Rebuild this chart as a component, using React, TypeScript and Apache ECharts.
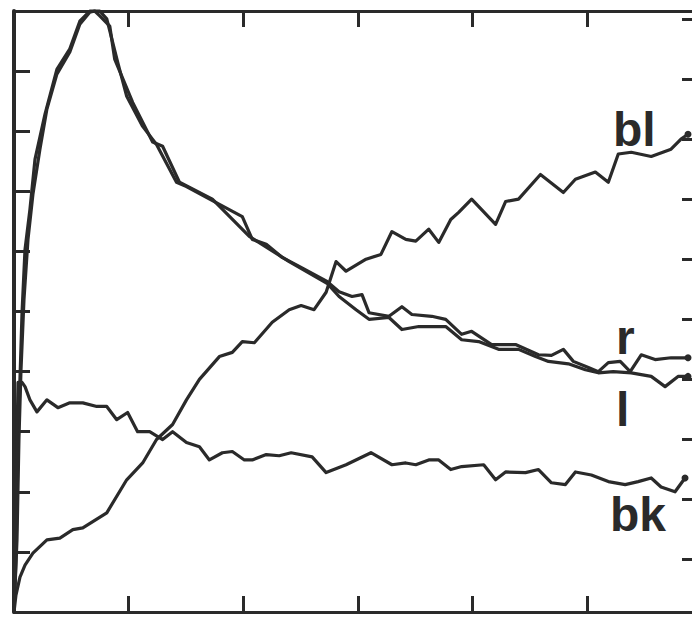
import React, { useEffect, useRef } from "react";
import * as echarts from "echarts";

// x in axis units (0..6), y in axis units (0..10)
const rPoints: [number, number][] = [
  [0, 0], [0.017, 0.87], [0.035, 2.7], [0.052, 3.87], [0.07, 4.98], [0.096, 6.03], [0.139, 6.7],
  [0.183, 7.53], [0.27, 8.28], [0.374, 9.03], [0.487, 9.37], [0.574, 9.83], [0.661, 10.0],
  [0.748, 10.0], [0.809, 9.87], [0.904, 9.15], [0.983, 8.58], [1.122, 8.08], [1.243, 7.78],
  [1.417, 7.15], [1.504, 7.08], [1.678, 6.9], [1.991, 6.58], [2.078, 6.2], [2.2, 6.12],
  [2.339, 5.9], [2.487, 5.75], [2.73, 5.5], [2.835, 5.33], [2.948, 5.25], [3.035, 5.28],
  [3.096, 4.98], [3.27, 4.92], [3.383, 5.08], [3.47, 4.95], [3.643, 4.92], [3.765, 4.87],
  [3.904, 4.62], [3.991, 4.67], [4.165, 4.45], [4.374, 4.45], [4.574, 4.28], [4.687, 4.27],
  [4.791, 4.37], [4.878, 4.17], [5.009, 4.07], [5.096, 4.0], [5.183, 4.15], [5.287, 4.17],
  [5.374, 4.0], [5.47, 4.28], [5.591, 4.2], [5.73, 4.23], [5.878, 4.23],
];

const lPoints: [number, number][] = [
  [0, 0], [0.026, 1.2], [0.043, 2.87], [0.061, 4.03], [0.087, 5.2], [0.122, 6.2], [0.165, 6.95],
  [0.226, 7.7], [0.287, 8.37], [0.374, 8.95], [0.487, 9.32], [0.574, 9.78], [0.661, 9.98],
  [0.704, 10.0], [0.748, 9.92], [0.835, 9.75], [0.878, 9.2], [1.035, 8.48], [1.209, 7.82],
  [1.296, 7.75], [1.443, 7.15], [1.73, 6.87], [2.052, 6.25], [2.4, 5.83], [2.73, 5.47],
  [2.835, 5.25], [2.983, 5.03], [3.096, 4.87], [3.27, 4.9], [3.383, 4.7], [3.53, 4.75],
  [3.765, 4.75], [3.904, 4.53], [4.052, 4.5], [4.226, 4.37], [4.4, 4.37], [4.548, 4.25],
  [4.661, 4.17], [4.835, 4.13], [4.983, 4.03], [5.096, 3.98], [5.226, 4.0], [5.383, 3.98],
  [5.557, 3.92], [5.678, 3.75], [5.791, 3.92], [5.878, 3.92],
];

const blPoints: [number, number][] = [
  [0, 0], [0.017, 0.28], [0.052, 0.58], [0.096, 0.78], [0.165, 0.98], [0.287, 1.2], [0.4, 1.23],
  [0.513, 1.37], [0.6, 1.4], [0.809, 1.65], [0.983, 2.2], [1.122, 2.48], [1.243, 2.87],
  [1.383, 3.12], [1.504, 3.53], [1.617, 3.87], [1.791, 4.25], [1.904, 4.32], [1.991, 4.5],
  [2.096, 4.48], [2.252, 4.82], [2.4, 5.03], [2.504, 5.1], [2.617, 5.03], [2.722, 5.32],
  [2.809, 5.83], [2.896, 5.67], [3.07, 5.87], [3.2, 5.95], [3.296, 6.33], [3.417, 6.2],
  [3.504, 6.17], [3.617, 6.37], [3.704, 6.15], [3.809, 6.53], [3.878, 6.65], [3.991, 6.87],
  [4.2, 6.45], [4.287, 6.83], [4.4, 6.87], [4.591, 7.28], [4.791, 6.98], [4.896, 7.2],
  [5.07, 7.32], [5.183, 7.15], [5.27, 7.62], [5.383, 7.65], [5.557, 7.58], [5.73, 7.7],
  [5.817, 7.87], [5.878, 7.95],
];

const bkPoints: [number, number][] = [
  [0, 0], [0.035, 3.82], [0.07, 3.82], [0.096, 3.75], [0.139, 3.53], [0.2, 3.33], [0.287, 3.53],
  [0.383, 3.4], [0.487, 3.48], [0.6, 3.48], [0.722, 3.42], [0.809, 3.42], [0.896, 3.2],
  [0.991, 3.32], [1.078, 3.0], [1.183, 3.0], [1.296, 2.87], [1.383, 3.0], [1.504, 2.82],
  [1.617, 2.75], [1.704, 2.53], [1.817, 2.65], [1.904, 2.67], [2.009, 2.53], [2.078, 2.53],
  [2.2, 2.62], [2.313, 2.6], [2.417, 2.65], [2.6, 2.58], [2.722, 2.32], [2.896, 2.45],
  [3.113, 2.65], [3.296, 2.45], [3.417, 2.48], [3.504, 2.45], [3.617, 2.53], [3.704, 2.53],
  [3.809, 2.37], [3.904, 2.42], [4.096, 2.45], [4.2, 2.2], [4.287, 2.33], [4.461, 2.32],
  [4.574, 2.37], [4.687, 2.15], [4.809, 2.12], [4.896, 2.33], [5.035, 2.28], [5.183, 2.17],
  [5.33, 2.12], [5.443, 2.17], [5.557, 2.23], [5.643, 2.08], [5.765, 2.0], [5.852, 2.23],
];

const seriesNames = ["r", "l", "bl", "bk"];
const rightTickValues = [0.87, 1.87, 2.87, 3.87, 4.87, 5.87, 6.87, 7.87, 8.87, 9.87];

const INK = "#2a2a2a";

function withEndDot(points: [number, number][]) {
  return points.map((p, i) =>
    i === points.length - 1
      ? { value: p, symbol: "circle", symbolSize: 7 }
      : { value: p }
  );
}

export default function App() {
  const ref = useRef<HTMLDivElement>(null);

  useEffect(() => {
    if (!ref.current) return;
    const chart = echarts.init(ref.current, null, { renderer: "svg" });
    const tick = { show: true, inside: true, length: 16, lineStyle: { color: INK, width: 3 } };
    const axisLine = (w: number) => ({ show: true, onZero: false, lineStyle: { color: INK, width: w } });
    const lineSeries = (name: string, pts: [number, number][]) => ({
      name,
      type: "line",
      xAxisIndex: 0,
      yAxisIndex: 0,
      data: withEndDot(pts),
      symbol: "none",
      showSymbol: true,
      showAllSymbol: true,
      itemStyle: { color: INK },
      lineStyle: { color: INK, width: 3.2, join: "round" },
      clip: false,
      silent: true,
    });
    const labelText = (text: string, x: number, y: number) => ({
      type: "text",
      x,
      y,
      style: {
        text,
        fill: INK,
        font: "bold 48px 'Liberation Sans', Arial, sans-serif",
        textVerticalAlign: "middle",
        verticalAlign: "middle",
      },
    });
    chart.setOption({
      animation: false,
      backgroundColor: "#ffffff",
      grid: {
        left: 14, right: -10, top: 11, bottom: 7, containLabel: false,
        outerBoundsMode: "none",
      },
      xAxis: [
        {
          type: "value", gridIndex: 0, min: 0, max: 6, interval: 1, position: "bottom",
          axisLine: axisLine(3),
          axisTick: tick, axisLabel: { show: false }, splitLine: { show: false },
        },
        {
          type: "value", gridIndex: 0, min: 0, max: 6, interval: 1, position: "top",
          axisLine: axisLine(3),
          axisTick: tick, axisLabel: { show: false }, splitLine: { show: false },
        },
      ],
      yAxis: [
        {
          type: "value", gridIndex: 0, min: 0, max: 10, interval: 1, position: "left",
          axisLine: axisLine(4),
          axisTick: tick, axisLabel: { show: false }, splitLine: { show: false },
        },
        {
          type: "value", gridIndex: 0, min: 0, max: 10, interval: 1, position: "right",
          axisLine: axisLine(3),
          axisTick: { ...tick, length: 20, customValues: rightTickValues },
          axisLabel: { show: false }, splitLine: { show: false },
        },
      ],
      series: [
        lineSeries(seriesNames[0], rPoints),
        lineSeries(seriesNames[1], lPoints),
        lineSeries(seriesNames[2], blPoints),
        lineSeries(seriesNames[3], bkPoints),
      ],
      graphic: [
        labelText("bl", 613, 129),
        labelText("r", 616, 337),
        labelText("l", 616, 409),
        labelText("bk", 610, 514),
      ],
    });
    return () => chart.dispose();
  }, []);

  return (
    <div
      ref={ref}
      style={{ position: "absolute", left: 0, top: 0, width: 692, height: 619, background: "#fff" }}
    />
  );
}
